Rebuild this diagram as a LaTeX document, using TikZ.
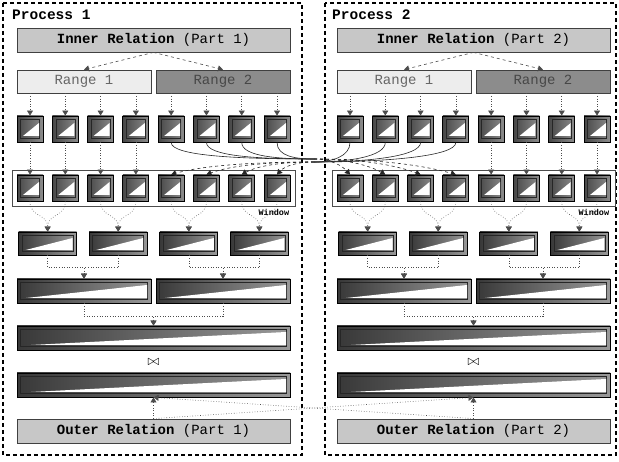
\documentclass[tikz,border=0pt]{standalone}
\usepackage{fontspec}
\setmonofont{Liberation Mono}
\usetikzlibrary{arrows.meta, positioning, fit}

\begin{document}
\begin{tikzpicture}[
  x=1pt, y=-1pt,
  frame/.style={draw, line width=1.5pt, dash pattern=on 4pt off 3pt},
  rel/.style={draw=black!75, line width=0.8pt, fill=black!22,
    minimum width=273pt, minimum height=24pt, inner sep=0pt,
    font=\fontsize{14}{15}\selectfont\ttfamily},
  rangebox/.style={rel, minimum width=134pt, minimum height=23pt, text=black!60},
  bar/.style 2 args={draw=black, line width=0.9pt, inner sep=0pt,
    left color=black!78, right color=black!40,
    path picture={
      \draw[black!85, line width=0.5pt]
        ([shift={(3.5pt,3.5pt)}]path picture bounding box.south west) rectangle
        ([shift={(-3.5pt,-3.5pt)}]path picture bounding box.north east);
      \fill[white]
        ([shift={(#1,#2)}]path picture bounding box.south west) --
        ([shift={(-4pt,-#2-1pt)}]path picture bounding box.north east) |- cycle;
    }},
  runcell/.style={bar={6pt}{6pt}, left color=black!72, right color=black!45,
    minimum width=26pt, minimum height=26pt},
  runhalf/.style={bar={7pt}{5pt}, minimum width=58pt, minimum height=23pt},
  runpart/.style={bar={9pt}{5pt}, minimum width=134pt, minimum height=24pt},
  runwhole/.style={bar={14pt}{5pt}, minimum width=273pt, minimum height=24pt},
  winframe/.style={draw=black!70, line width=0.8pt, inner sep=4.5pt},
  headtip/.style={-{Triangle[width=6pt,length=5pt]}},
  dotarrow/.style={headtip, dotted, black!70, semithick},
  dasharrow/.style={headtip, dashed, black!70, semithick},
  xfer/.style={black!85, semithick},
  xferin/.style={headtip, black!85, semithick, dashed},
  lbl/.style={font=\fontsize{14.5}{16}\selectfont\ttfamily\bfseries},
  winlbl/.style={font=\fontsize{8.5}{9}\selectfont\ttfamily\bfseries, inner sep=1pt}
]
\useasboundingbox (0,0) rectangle (619,462);

\foreach \p/\dx/\fl/\fr in {1/0/3/302, 2/320/325/616} {
  % Process frame
  \draw[frame] (\fl,3) rectangle (\fr,455);
  \node[lbl, anchor=west, inner sep=0pt] (proc-\p) at (12+\dx,15) {Process \p};

  % Inner relation and its ranges
  \node[rel] (inner-\p) at (153.5+\dx,40) {\textbf{Inner Relation} (Part \p)};
  \node[rangebox, fill=black!7]  (range1-\p) at (84+\dx,81.5)  {Range 1};
  \node[rangebox, fill=black!45, text=black!72] (range2-\p) at (223+\dx,81.5) {Range 2};
  \draw[dasharrow] (inner-\p.south) -- (range1-\p.north);
  \draw[dasharrow] (inner-\p.south) -- (range2-\p.north);

  % Sorted runs, two rows
  \foreach \i in {1,...,8} {
    \node[runcell] (r1-\p-\i) at (30+35.29*\i-35.29+\dx,129) {};
    \node[runcell] (r2-\p-\i) at (30+35.29*\i-35.29+\dx,188) {};
  }
  \foreach \i in {1,...,4}
    \draw[dotarrow] (r1-\p-\i.north |- range1-\p.south) -- (r1-\p-\i.north);
  \foreach \i in {5,...,8}
    \draw[dotarrow] (r1-\p-\i.north |- range2-\p.south) -- (r1-\p-\i.north);

  \node[winframe, fit=(r2-\p-1)(r2-\p-8)] (win-\p) {};
  \node[winlbl, anchor=north east] (winlbl-\p) at ([xshift=-5pt,yshift=-2pt]win-\p.south east) {Window};

  % Merge steps
  \foreach \k/\a/\b in {1/1/2, 2/3/4, 3/5/6, 4/7/8} {
    \node[runhalf] (r3-\p-\k) at (30+35.29*\a-17.65+\dx,243.5) {};
    \draw[dotarrow] (r2-\p-\a.south) .. controls +(0,16) and +(0,-18) .. (r3-\p-\k.north);
    \draw[dotarrow] (r2-\p-\b.south) .. controls +(0,16) and +(0,-18) .. (r3-\p-\k.north);
  }
  \node[runpart] (r4-\p-1) at (84+\dx,291)  {};
  \node[runpart] (r4-\p-2) at (223+\dx,291) {};
  \draw[dotarrow] (r3-\p-1.south) -- ++(0,12) -| (r4-\p-1.north);
  \draw[dotarrow] (r3-\p-2.south) -- ++(0,12) -| (r4-\p-1.north);
  \draw[dotarrow] (r3-\p-3.south) -- ++(0,12) -| (r4-\p-2.north);
  \draw[dotarrow] (r3-\p-4.south) -- ++(0,12) -| (r4-\p-2.north);

  \node[runwhole] (r5-\p) at (153.5+\dx,338) {};
  \draw[dotarrow] (r4-\p-1.south) -- ++(0,13) -| (r5-\p.north);
  \draw[dotarrow] (r4-\p-2.south) -- ++(0,13) -| (r5-\p.north);

  % Join with the outer relation
  \node[font=\Large] (join-\p) at (153.5+\dx,362) {$\bowtie$};
  \node[runwhole] (r6-\p) at (153.5+\dx,385) {};
  \node[rel] (outer-\p) at (153.5+\dx,431) {\textbf{Outer Relation} (Part \p)};
  \draw[dotarrow] (outer-\p.north) -- (r6-\p.south);
}

% Local runs stay in place
\foreach \i in {1,...,4}
  \draw[dotarrow] (r1-1-\i.south) -- (r2-1-\i.north);
\foreach \i in {5,...,8}
  \draw[dotarrow] (r1-2-\i.south) -- (r2-2-\i.north);

% Runs exchanged between the processes
\coordinate (gap-a) at (314,159);
\coordinate (gap-b) at (314,162);
\foreach \i/\j/\cf/\cn in {5/1/70/18, 6/2/54/35, 7/3/36/53, 8/4/18/71} {
  \draw[xfer] (r1-1-\i.south) .. controls +(0,14) and +(-\cf,0) .. (gap-a);
  \draw[xferin] (gap-a) .. controls +(\cn,0) and +(-0.4*\cn,-8) .. (r2-2-\j.north);
  \draw[xfer] (r1-2-\j.south) .. controls +(0,14) and +(\cn,0) .. (gap-b);
  \draw[xferin] (gap-b) .. controls +(-\cf,0) and +(0.4*\cf,-8) .. (r2-1-\i.north);
}

% Outer relation parts sent across
\draw[dotarrow] (outer-1.north) -- (r6-2.south);
\draw[dotarrow] (outer-2.north) -- (r6-1.south);

\end{tikzpicture}
\end{document}
